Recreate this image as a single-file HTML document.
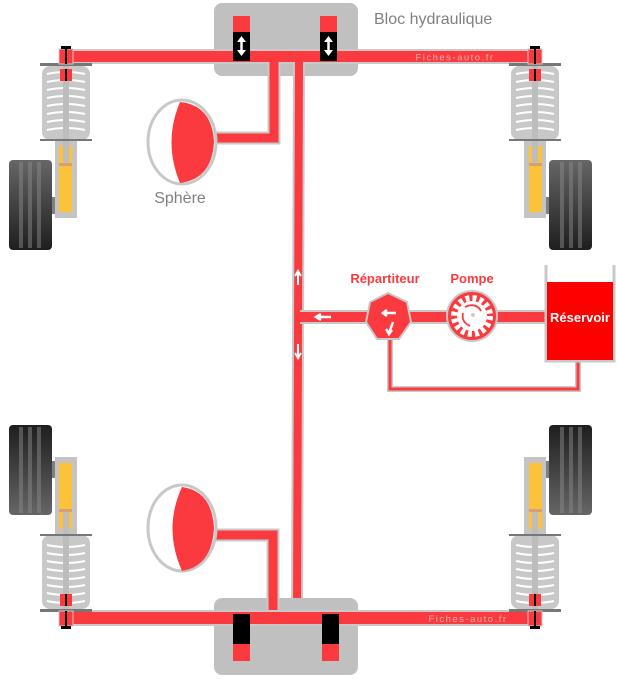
<!DOCTYPE html>
<html><head><meta charset="utf-8"><style>
html,body{margin:0;padding:0;background:#fff;width:617px;height:697px;overflow:hidden}
svg{display:block}
text{font-family:"Liberation Sans",sans-serif}
</style></head><body>
<svg width="617" height="697" viewBox="0 0 617 697" xmlns="http://www.w3.org/2000/svg">
<defs>
<linearGradient id="tg" x1="0" y1="0" x2="0" y2="1">
<stop offset="0" stop-color="#666"/><stop offset="1" stop-color="#1e1e1e"/></linearGradient>
<g id="strut">
  <rect x="-57" y="103" width="43" height="90" rx="4" fill="url(#tg)"/>
  <rect x="-47" y="105" width="4" height="86" fill="#888" opacity="0.5"/>
  <rect x="-38" y="105" width="4" height="86" fill="#888" opacity="0.5"/>
  <rect x="-29" y="105" width="4" height="86" fill="#888" opacity="0.5"/>
  <rect x="-14" y="140" width="5" height="17" fill="#808080"/>
  <rect x="-11" y="84" width="22" height="77" fill="#c4c4c4"/>
  <rect x="-7" y="89" width="13" height="66" fill="#fbc23a"/>
  <rect x="-3" y="84" width="6" height="24" fill="#bdbdbd"/>
  <rect x="-7" y="106" width="13" height="3" fill="#d8a070"/>
  <rect x="-24" y="9" width="48" height="74" rx="8" fill="#c8c8c8"/>
  <g stroke="#fff" stroke-width="2" fill="none">
    <path d="M-19 17 Q0 13 19 17"/><path d="M-19 25 Q0 21 19 25"/><path d="M-19 33 Q0 29 19 33"/>
    <path d="M-19 41 Q0 37 19 41"/><path d="M-19 49 Q0 45 19 49"/><path d="M-19 57 Q0 53 19 57"/>
    <path d="M-19 65 Q0 61 19 65"/><path d="M-19 73 Q0 69 19 73"/>
  </g>
  <rect x="-3" y="9" width="6" height="75" fill="#bdbdbd"/>
  <rect x="-6" y="12" width="12" height="12" fill="#fb3a3f"/>
  <rect x="-1" y="12" width="2" height="12" fill="#000"/>
  <rect x="-26" y="6" width="52" height="3" fill="#777"/>
  <rect x="-26" y="82" width="52" height="2" fill="#777"/>
  <rect x="-7" y="-8" width="14" height="15" fill="#fb3a3f" stroke="#c8c8c8" stroke-width="1"/>
  <rect x="-1" y="-9" width="2" height="16" fill="#000"/>
  <rect x="-5" y="-11" width="10" height="3" fill="#000"/>
</g>
<g id="dbl">
  <path d="M0 -8 V8" stroke="#fff" stroke-width="2.5"/>
  <path d="M-4.5 -4 L0 -10 L4.5 -4 Z M-4.5 4 L0 10 L4.5 4 Z" fill="#fff"/>
</g>
</defs>

<rect x="214" y="3" width="144" height="73" rx="8" fill="#c0c0c0"/>
<rect x="70" y="49" width="462" height="15" fill="#c8c8c8"/>
<rect x="70" y="51" width="462" height="11" fill="#fb3a3f"/>
<text x="455" y="60.5" font-size="9.5" fill="#ffb0b0" text-anchor="middle" letter-spacing="1.5" style="font-weight:normal">Fiches-auto.fr</text>
<rect x="233" y="16" width="17" height="16" fill="#fb3a3f"/>
<rect x="233" y="32" width="17" height="29" fill="#000"/>
<rect x="320" y="16" width="17" height="16" fill="#fb3a3f"/>
<rect x="320" y="32" width="17" height="29" fill="#000"/>
<use href="#dbl" transform="translate(241.5,46)"/>
<use href="#dbl" transform="translate(328.5,46)"/>
<text x="374" y="24" font-size="16" fill="#808080" style="font-weight:normal">Bloc hydraulique</text>

<path d="M274 62 V138 H215" stroke="#c8c8c8" stroke-width="13" fill="none"/>
<path d="M274 62 V138 H215" stroke="#fb3a3f" stroke-width="9" fill="none"/>
<path d="M299 62 L297 613" stroke="#c8c8c8" stroke-width="12" fill="none"/>
<path d="M299 62 L297 613" stroke="#fb3a3f" stroke-width="8" fill="none"/>

<ellipse cx="182" cy="142" rx="34" ry="42" fill="#fff" stroke="#c8c8c8" stroke-width="3"/>
<path d="M180 102 Q212 105 214 142 Q212 179 180 183 Q163 142 180 102 Z" fill="#fb3a3f"/>
<text x="180" y="203" font-size="16" fill="#808080" text-anchor="middle" style="font-weight:normal">Sphère</text>

<rect x="300" y="310" width="247" height="14" fill="#c8c8c8"/>
<rect x="300" y="312" width="247" height="10" fill="#fb3a3f"/>
<path d="M390 330 V389 H578 V358" stroke="#c8c8c8" stroke-width="6" fill="none"/>
<path d="M390 330 V389 H578 V358" stroke="#fb3a3f" stroke-width="3" fill="none"/>
<path d="M546 265 V361 H614 V265" stroke="#c8c8c8" stroke-width="3" fill="none"/>
<rect x="547" y="282" width="66" height="78" fill="#fe0000"/>
<text x="580" y="322" font-size="13" fill="#fff" text-anchor="middle" style="font-weight:bold">Réservoir</text>
<polygon points="388,293 407,302 411,322 399,339 377,339 366,322 370,302" fill="#fb3a3f" stroke="#c8c8c8" stroke-width="2"/>
<text x="385" y="283" font-size="13" fill="#fb3a3f" text-anchor="middle" style="font-weight:bold">Répartiteur</text>
<path d="M396 313 H384 M387 310 L383 313 L387 316" stroke="#fff" stroke-width="2.5" fill="none"/>
<path d="M393 322 L389 333 M386 329 L389 334 L392 330" stroke="#fff" stroke-width="2.5" fill="none"/>
<circle cx="472" cy="316" r="25" fill="#fb3a3f" stroke="#c8c8c8" stroke-width="2"/>
<circle cx="472" cy="316" r="18" fill="none" stroke="#fff" stroke-width="6" stroke-dasharray="4 3.1"/>
<circle cx="472" cy="316" r="15" fill="#fff"/>
<path d="M465 307 Q476 302 481 311 M470 326 Q461 322 463 313" stroke="#fb3a3f" stroke-width="1.8" fill="none"/>
<circle cx="473" cy="315" r="2" fill="#ccc"/>
<text x="472" y="283" font-size="13" fill="#fb3a3f" text-anchor="middle" style="font-weight:bold">Pompe</text>
<path d="M298 285 V272 M295 276 L298 271 L301 276" stroke="#fff" stroke-width="2" fill="none"/>
<path d="M298 344 V357 M295 353 L298 358 L301 353" stroke="#fff" stroke-width="2" fill="none"/>
<path d="M331 317 H317 M321 314 L316 317 L321 320" stroke="#fff" stroke-width="2.5" fill="none"/>

<rect x="214" y="598" width="144" height="77" rx="8" fill="#c0c0c0"/>
<path d="M273 612 V535 H215" stroke="#c8c8c8" stroke-width="13" fill="none"/>
<path d="M273 612 V535 H215" stroke="#fb3a3f" stroke-width="9" fill="none"/>
<rect x="70" y="610" width="462" height="16" fill="#c8c8c8"/>
<rect x="70" y="612" width="462" height="12" fill="#fb3a3f"/>
<text x="468" y="622" font-size="9.5" fill="#ffb0b0" text-anchor="middle" letter-spacing="1.5" style="font-weight:normal">Fiches-auto.fr</text>
<rect x="233" y="614" width="17" height="30" fill="#000"/>
<rect x="233" y="644" width="17" height="17" fill="#fb3a3f"/>
<rect x="322" y="614" width="17" height="30" fill="#000"/>
<rect x="322" y="644" width="17" height="17" fill="#fb3a3f"/>
<ellipse cx="182" cy="528" rx="34" ry="43" fill="#fff" stroke="#c8c8c8" stroke-width="3"/>
<path d="M182 487 Q212 491 214 528 Q212 566 182 571 Q163 528 182 487 Z" fill="#fb3a3f"/>

<use href="#strut" transform="translate(66,57)"/>
<use href="#strut" transform="translate(535,57) scale(-1,1)"/>
<use href="#strut" transform="translate(66,618) scale(1,-1)"/>
<use href="#strut" transform="translate(535,618) scale(-1,-1)"/>
</svg>
</body></html>
